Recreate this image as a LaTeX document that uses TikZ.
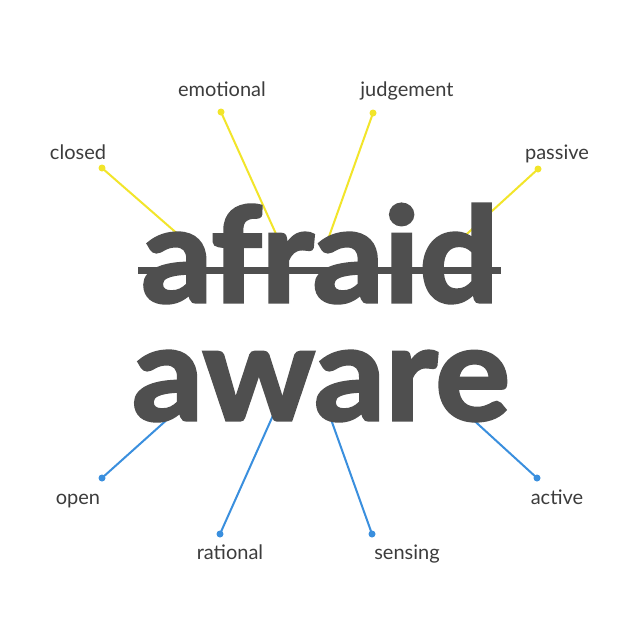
\documentclass[tikz,border=0pt]{standalone}
\usepackage{fontspec}
\setmainfont{Lato}
\newfontfamily\wordfont[BoldFeatures={FakeBold=2.5,FakeStretch=1.06}]{Lato}
\definecolor{wordgrey}{HTML}{4F4F4F}
\definecolor{labgrey}{HTML}{3C3C3C}
\definecolor{yel}{HTML}{F2E52A}
\definecolor{blu}{HTML}{3A8FDE}
\tikzset{
  lab/.style={anchor=base, text=labgrey, inner sep=0pt, font=\fontsize{20}{24}\selectfont},
  bigword/.style={anchor=base, text=wordgrey, inner sep=0pt, text depth=0pt, font=\wordfont\bfseries\fontsize{132}{140}\selectfont},
  ydot/.style={circle, fill=yel, minimum size=7pt, inner sep=0pt},
  bdot/.style={circle, fill=blu, minimum size=7pt, inner sep=0pt},
  yline/.style={draw=yel, line width=2pt},
  bline/.style={draw=blu, line width=2pt},
}
\begin{document}
\begin{tikzpicture}[x=1pt,y=-1pt]
\useasboundingbox (0,0) rectangle (640,640);
\fill[white] (0,0) rectangle (640,640);
% dots
\node[ydot] (dclosed) at (102,168) {};
\node[ydot] (demotional) at (221,112) {};
\node[ydot] (djudgement) at (373,113) {};
\node[ydot] (dpassive) at (538,169) {};
\node[bdot] (dopen) at (102,478) {};
\node[bdot] (drational) at (220,534) {};
\node[bdot] (dsensing) at (372,534) {};
\node[bdot] (dactive) at (537,478) {};
% hidden ends
\coordinate (eclosed) at (188,243);
\coordinate (eemotional) at (281,245);
\coordinate (ejudgement) at (326,245);
\coordinate (epassive) at (457,243);
\coordinate (eopen) at (180,408);
\coordinate (erational) at (275,411);
\coordinate (esensing) at (328,411);
\coordinate (eactive) at (468,415);
\draw[yline] (dclosed.center) -- (eclosed);
\draw[yline] (demotional.center) -- (eemotional);
\draw[yline] (djudgement.center) -- (ejudgement);
\draw[yline] (dpassive.center) -- (epassive);
\draw[bline] (dopen.center) -- (eopen);
\draw[bline] (drational.center) -- (erational);
\draw[bline] (dsensing.center) -- (esensing);
\draw[bline] (dactive.center) -- (eactive);
% labels
\node[lab] (lclosed) at (78,159) {closed};
\node[lab] (lemotional) at (222,96) {emotional};
\node[lab] (ljudgement) at (407,96) {judgement};
\node[lab] (lpassive) at (557,159) {passive};
\node[lab] (lopen) at (78,504) {open};
\node[lab] (lrational) at (230,559) {rational};
\node[lab] (lsensing) at (407,559) {sensing};
\node[lab] (lactive) at (557,504) {active};
% words
\node[bigword, text height=98pt] (afraid) at (320,302) {afraid};
\node[bigword, text height=68pt] (aware) at (321,420) {aware};
\coordinate (sl) at (138,270.5);
\coordinate (sr) at (501,270.5);
\draw[wordgrey, line width=7pt] (sl) -- (sr);
\end{tikzpicture}
\end{document}
